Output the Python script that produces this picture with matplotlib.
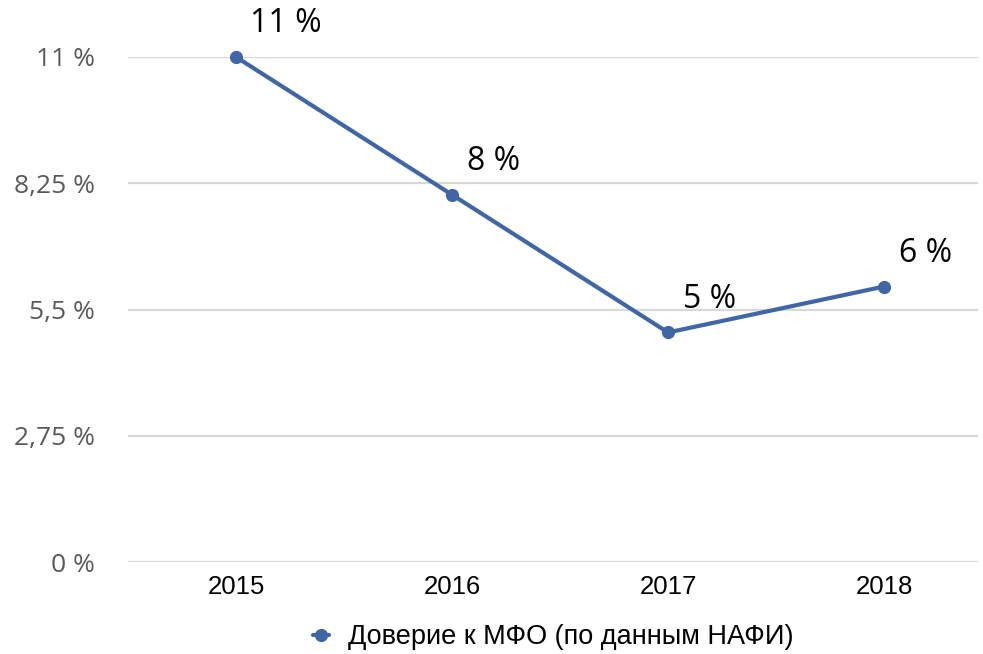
import numpy as np
from matplotlib import pyplot as plt

years = ['2015', '2016', '2017', '2018']
trust = [11, 8, 5, 6]
ytick_vals = [0, 2.75, 5.5, 8.25, 11]
ytick_txt = ['0 %', '2,75 %', '5,5 %', '8,25 %', '11 %']
label_txt = ['11 %', '8 %', '5 %', '6 %']
label_dx = [10, 11, 11, 11]   # смещение подписей, pt
legend_txt = 'Доверие к МФО (по данным НАФИ)'

blue = '#4166a6'

fig = plt.figure(figsize=(9.83, 6.54), dpi=100)
ax = fig.add_axes([128/983, 1-562/654, 850/983, 505/654])

x = np.arange(len(years))
ax.plot(x, trust, '-o', color=blue, lw=3, ms=8.5, label=legend_txt,
        solid_capstyle='round', zorder=3)

for i in range(len(x)):
    ax.annotate(label_txt[i], (x[i], trust[i]), xytext=(label_dx[i], 24),
                textcoords='offset points', ha='left', va='center',
                fontsize=23, family='Open Sans', color='black')

ax.set_xlim(-0.5, 3.435)
ax.set_ylim(0, 11)
ax.set_xticks(x)
ax.set_xticklabels(years, family='Liberation Sans', fontsize=18.5)
ax.set_yticks(ytick_vals)
ax.set_yticklabels(ytick_txt, family='Open Sans', fontsize=19, color='#595959')
ax.tick_params(axis='y', length=0, pad=24)
ax.tick_params(axis='x', length=0, pad=9)
ax.grid(axis='y', color='#d9d9d9', lw=1.6)
ax.set_axisbelow(True)
for s in ax.spines.values():
    s.set_visible(False)
for l in ax.lines:
    l.set_clip_on(False)

fig.legend(loc='center', bbox_to_anchor=(553/983, 1-637/654), frameon=False,
           prop={'family': 'Liberation Sans', 'size': 19.5}, handlelength=0.6,
           handletextpad=0.7, markerscale=1.0)

plt.savefig('out.png', dpi=100)
